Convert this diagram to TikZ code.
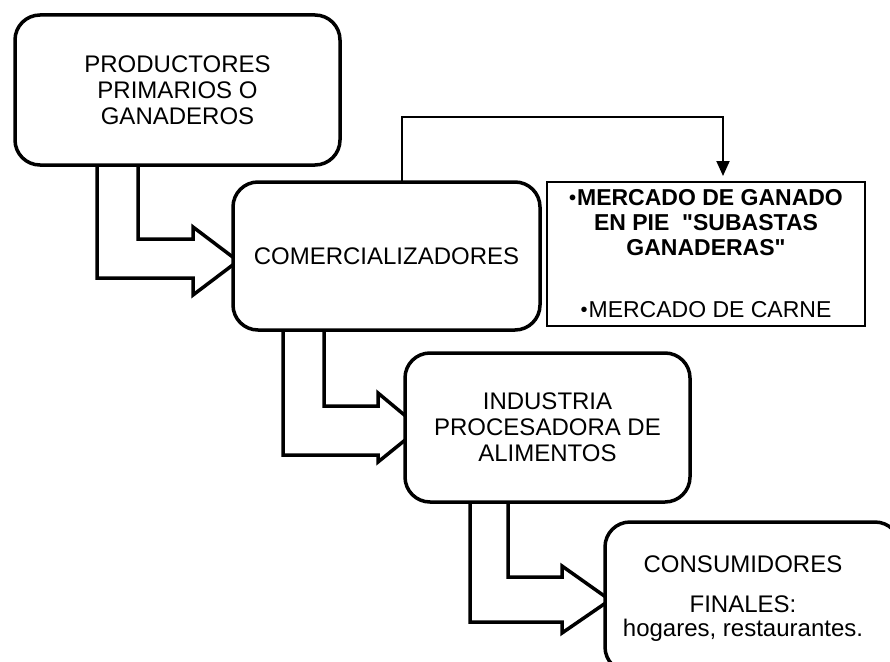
\documentclass[tikz,border=0pt]{standalone}
\usepackage{fontspec}
\setmainfont{Liberation Sans}[Ligatures=TeXOff]
\usetikzlibrary{arrows.meta}
\newcommand{\mbul}{\raisebox{1.5pt}{\fontsize{20}{20}\selectfont •}\hspace{1pt}}
\begin{document}
\begin{tikzpicture}[x=1pt,y=-1pt,
  box/.style={draw, line width=3.5pt, rounded corners=25pt, fill=white,
    inner sep=0pt, outer sep=0pt, align=center, font=\fontsize{24}{26}\selectfont},
  mbox/.style={draw, line width=2pt, fill=white, inner sep=0pt, outer sep=0pt,
    align=center, font=\fontsize{23}{25}\selectfont},
  txt/.style={align=center, inner sep=0pt, font=\fontsize{24}{24}\selectfont},
  barrow/.style={draw, line width=3.5pt, fill=white, line join=miter},
  conn/.style={line width=2pt, -{Triangle[length=15pt,width=13pt]}, shorten >=6pt}]
\useasboundingbox (0,0) rectangle (890,661);
\clip (0,0) rectangle (890,661);
\fill[white] (0,0) rectangle (890,661);

% block arrows (drawn beneath the boxes)
\draw[barrow] (97,160) -- (97,278) -- (193,278) -- (193,295) -- (238,261)
  -- (193,227) -- (193,239) -- (138,239) -- (138,160);
\draw[barrow] (283,325) -- (283,455) -- (378,455) -- (378,462) -- (420,428)
  -- (378,393) -- (378,406) -- (324,406) -- (324,325);
\draw[barrow] (470,495) -- (470,622) -- (562,622) -- (562,633) -- (610,600)
  -- (562,566) -- (562,577) -- (508,577) -- (508,495);

% boxes
\node[box, minimum width=325, minimum height=150] (p) at (177.5,90)
  {PRODUCTORES\\PRIMARIOS O\\GANADEROS};
\node[box, minimum width=307, minimum height=148] (c) at (386.5,256)
  {COMERCIALIZADORES};
\node[mbox, minimum width=318, minimum height=144] (m) at (706,254)
  {\textbf{\mbul MERCADO DE GANADO}\\\textbf{EN PIE\ \ "SUBASTAS}\\\textbf{GANADERAS"}\\[37pt]\mbul MERCADO DE CARNE};
\node[box, minimum width=285, minimum height=149] (i) at (547.5,427.5)
  {INDUSTRIA\\PROCESADORA DE\\ALIMENTOS};
\node[box, minimum width=295, minimum height=150] (f) at (752.5,597) {};
\node[txt] (ft) at (743,599)
  {CONSUMIDORES\\[16pt]FINALES:\\hogares, restaurantes.};

% connector
\draw[conn] ([xshift=15.5]c.north) -- ++(0,-65) -| ([xshift=17]m.north);
\end{tikzpicture}
\end{document}
